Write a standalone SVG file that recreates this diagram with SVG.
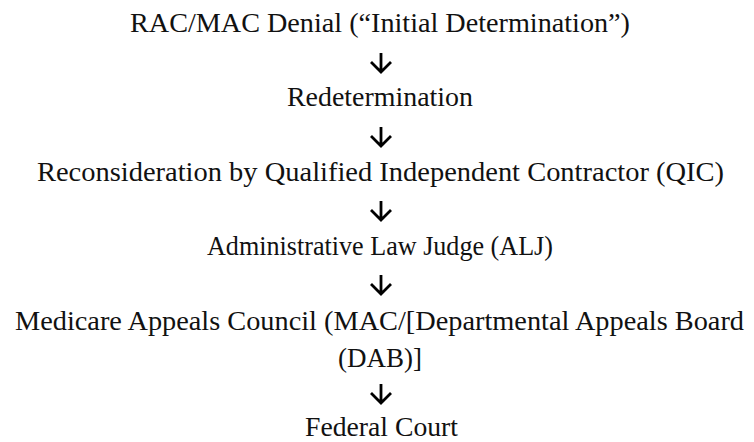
<svg xmlns="http://www.w3.org/2000/svg" width="754" height="442" viewBox="0 0 754 442">
<style>
.t{font-family:"Liberation Serif","Times New Roman",serif;font-size:26.5px;fill:#111;text-anchor:middle}
.a{fill:none;stroke:#000;stroke-width:2.8;stroke-linecap:butt;stroke-linejoin:miter}
</style>
<rect width="754" height="442" fill="#fff"/>
<g id="n1"><text class="t" x="380" y="32" textLength="500" lengthAdjust="spacingAndGlyphs">RAC/MAC Denial (“Initial Determination”)</text></g>
<g id="n2"><text class="t" x="380" y="106" textLength="186" lengthAdjust="spacingAndGlyphs">Redetermination</text></g>
<g id="n3"><text class="t" x="380.5" y="181" textLength="687" lengthAdjust="spacingAndGlyphs">Reconsideration by Qualified Independent Contractor (QIC)</text></g>
<g id="n4"><text class="t" x="380" y="255" textLength="346" lengthAdjust="spacingAndGlyphs">Administrative Law Judge (ALJ)</text></g>
<g id="n5"><text class="t" x="379.5" y="330" textLength="729" lengthAdjust="spacingAndGlyphs">Medicare Appeals Council (MAC/[Departmental Appeals Board</text><text class="t" x="380" y="367" textLength="84" lengthAdjust="spacingAndGlyphs">(DAB)]</text></g>
<g id="n6"><text class="t" x="381.5" y="436" textLength="153" lengthAdjust="spacingAndGlyphs">Federal Court</text></g>
<g id="connectors">
<path class="a" d="M381,53V72M371,62L381,72L391,62"/>
<path class="a" d="M381,127V146M371,136L381,146L391,136"/>
<path class="a" d="M381,201V220M371,210L381,220L391,210"/>
<path class="a" d="M381,275V294M371,284L381,294L391,284"/>
<path class="a" d="M381,384V403M371,393L381,403L391,393"/>
</g>
</svg>
